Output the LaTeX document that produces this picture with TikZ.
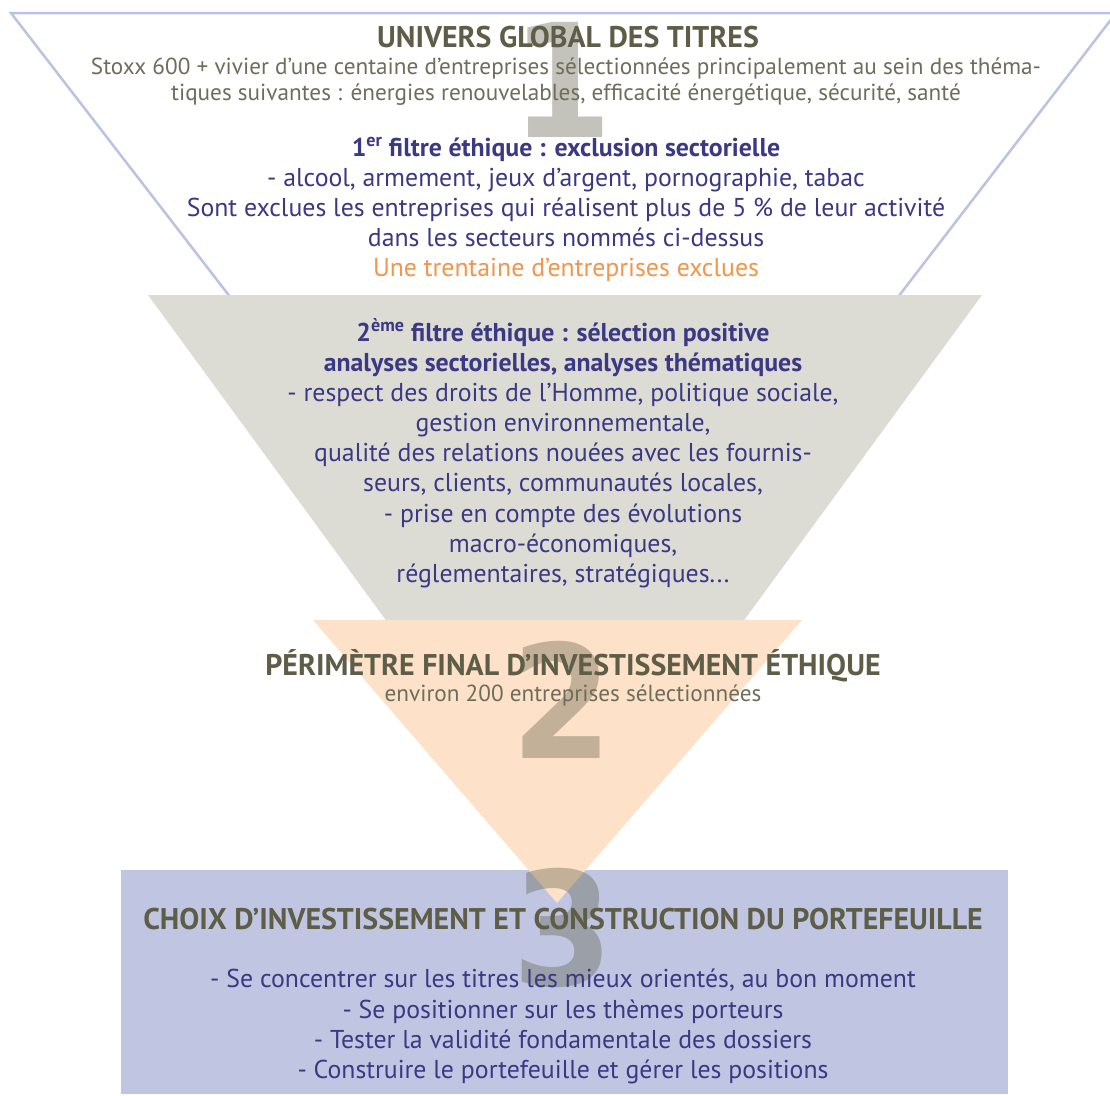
\documentclass[tikz,border=0pt]{standalone}
\usepackage{fontspec}
\setmainfont{PT Sans}
\newfontfamily\dNumFam{DejaVu Sans}[FakeStretch=0.92]
\definecolor{topblue}{HTML}{BCC2E2}
\definecolor{grayfill}{HTML}{DCDCD5}
\definecolor{peach}{HTML}{FDE1C8}
\definecolor{boxblue}{HTML}{C0C6E1}
\definecolor{navy}{HTML}{3B3884}
\definecolor{olive}{HTML}{5E5D47}
\definecolor{olivelight}{HTML}{6E6D5C}
\definecolor{orangetxt}{HTML}{F3954A}
\definecolor{numcol}{HTML}{5C5A44}
\newcommand\dBody{\fontsize{25.8}{30}\selectfont}
\newcommand\dSmall{\fontsize{23.2}{26}\selectfont}
\newcommand\dHead{\fontsize{29.9}{32}\selectfont\bfseries}
\newcommand\dNum{\dNumFam\fontsize{158}{158}\selectfont\bfseries}
\tikzset{
  funnelone/.style={draw=topblue, line width=2.5pt, fill=white, line join=miter},
  funneltwo/.style={fill=grayfill},
  funnelthree/.style={fill=peach},
  basebox/.style={fill=boxblue},
  numeral/.style={font=\dNum, text=numcol, text opacity=0.36, inner sep=0pt, anchor=center},
  navyline/.style={anchor=base, text=navy, font=\dBody, inner sep=0pt},
  navybold/.style={anchor=base, text=navy, font=\dBody\bfseries, inner sep=0pt},
  oliveline/.style={anchor=base, text=olivelight, font=\dSmall, inner sep=0pt},
  headline/.style={anchor=base, text=olive, font=\dHead, inner sep=0pt},
  orangeline/.style={anchor=base, text=orangetxt, font=\dBody, inner sep=0pt},
}
\begin{document}
\begin{tikzpicture}[x=1pt,y=-1pt]
\useasboundingbox (0,0) rectangle (1110,1095);
% shapes
\draw[funnelone] (11,13) -- (1116,13) -- (565,731) -- cycle;
\fill[funneltwo] (148,295) -- (982,295) -- (565,865) -- cycle;
\fill[basebox] (121,870) rectangle (1008,1094);
\fill[funnelthree] (313,620) -- (802,620) -- (557,903) -- cycle;
% numerals
\node[numeral] (n1) at (562,80) {1};
\node[numeral] (n2) at (562,700) {2};
\node[numeral] (n3) at (563,928) {3};
% stage 1
\node[headline] (t1) at (568,47) {UNIVERS GLOBAL DES TITRES};
\node[oliveline] (s1a) at (566,74) {Stoxx 600 + vivier d’une centaine d’entreprises sélectionnées principalement au sein des théma-};
\node[oliveline] (s1b) at (566,100) {tiques suivantes : énergies renouvelables, efficacité énergétique, sécurité, santé};
\node[navybold] (f1) at (566,156) {1\textsuperscript{er} filtre éthique : exclusion sectorielle};
\node[navyline] (f1a) at (566,186) {- alcool, armement, jeux d’argent, pornographie, tabac};
\node[navyline] (f1b) at (566,216) {Sont exclues les entreprises qui réalisent plus de 5 \% de leur activité};
\node[navyline] (f1c) at (566,246) {dans les secteurs nommés ci-dessus};
\node[orangeline] (f1d) at (566,276) {Une trentaine d’entreprises exclues};
% stage 2
\node[navybold] (f2) at (563,341) {2\textsuperscript{ème} filtre éthique : sélection positive};
\node[navybold] (f2a) at (563,371) {analyses sectorielles, analyses thématiques};
\node[navyline] (f2b) at (563,401) {- respect des droits de l’Homme, politique sociale,};
\node[navyline] (f2c) at (563,431) {gestion environnementale,};
\node[navyline] (f2d) at (563,461) {qualité des relations nouées avec les fournis-};
\node[navyline] (f2e) at (563,491) {seurs, clients, communautés locales,};
\node[navyline] (f2f) at (563,522) {- prise en compte des évolutions};
\node[navyline] (f2g) at (563,552) {macro-économiques,};
\node[navyline] (f2h) at (563,582) {réglementaires, stratégiques...};
% stage 3
\node[headline] (t2) at (573,675) {PÉRIMÈTRE FINAL D’INVESTISSEMENT ÉTHIQUE};
\node[oliveline] (s2) at (573,701) {environ 200 entreprises sélectionnées};
% stage 4
\node[headline] (t3) at (563,929) {CHOIX D’INVESTISSEMENT ET CONSTRUCTION DU PORTEFEUILLE};
\node[navyline] (c1) at (563,987) {- Se concentrer sur les titres les mieux orientés, au bon moment};
\node[navyline] (c2) at (563,1018) {- Se positionner sur les thèmes porteurs};
\node[navyline] (c3) at (563,1048) {- Tester la validité fondamentale des dossiers};
\node[navyline] (c4) at (563,1078) {- Construire le portefeuille et gérer les positions};
\end{tikzpicture}
\end{document}
